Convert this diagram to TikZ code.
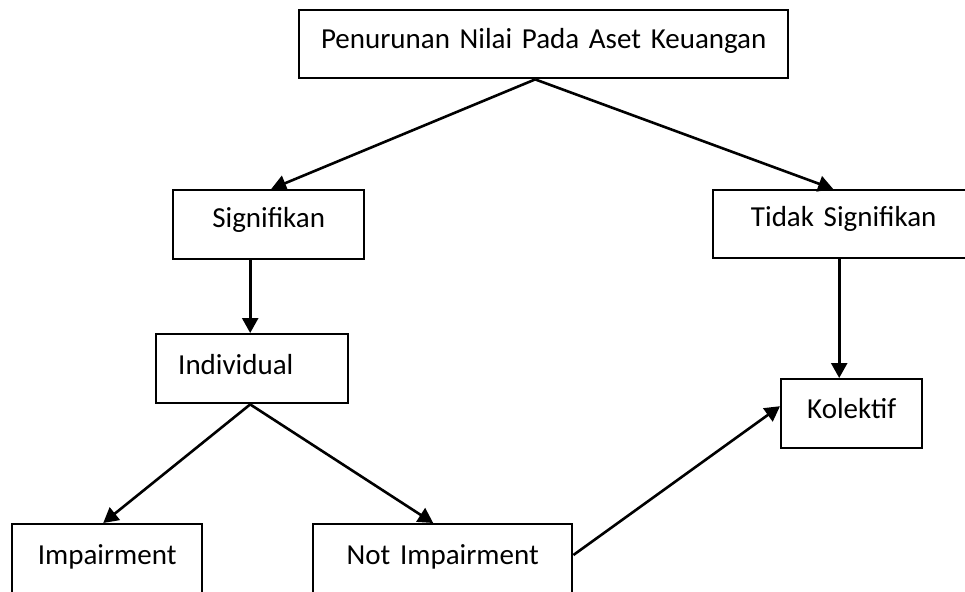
\documentclass[tikz,border=0pt]{standalone}
\usepackage{fontspec}
\setmainfont{Carlito}
\usetikzlibrary{arrows.meta,positioning}

\begin{document}
\begin{tikzpicture}[x=1pt, y=-1pt,
		kotak/.style={draw, line width=2.4pt, anchor=north west, inner sep=0pt, align=center, font=\fontsize{29}{35}\selectfont},
		panah/.style={line width=2.6pt, -{Triangle[length=15pt,width=16pt]}}]
				% Area of the picture
				\useasboundingbox (0,0) rectangle (965,591);
				\clip (0,0) rectangle (965,591);
				% Draw boxes
				\node[kotak, text width=489pt, text height=38pt, text depth=30pt] (penurunan) at (298,9) {Penurunan Nilai Pada Aset Keuangan};
				\node[kotak, text width=191pt, text height=37pt, text depth=32pt] (signifikan) at (172,189) {Signifikan};
				\node[kotak, text width=261pt, text height=36pt, text depth=32pt] (tidaksig) at (712,189) {Tidak Signifikan};
				\node[kotak, align=left, text width=192pt, text height=40pt, text depth=29pt] (individual) at (155,333) {\hspace*{22pt}Individual};
				\node[kotak, text width=141pt, text height=39pt, text depth=30pt] (kolektif) at (780,378) {Kolektif};
				\node[kotak, text width=190pt, text height=40pt, text depth=50pt] (impairment) at (11,523) {Impairment};
				\node[kotak, text width=259pt, text height=40pt, text depth=50pt] (notimp) at (312,523) {Not Impairment};
				% Draw arrows
				\draw[panah] ([xshift=-8.5pt]penurunan.south) -- ([xshift=2.5pt]signifikan.north);
				\draw[panah] ([xshift=-8.5pt]penurunan.south) -- ([xshift=-10.5pt]tidaksig.north);
				\draw[panah] ([xshift=-18.5pt]signifikan.south) -- ([xshift=-2pt]individual.north);
				\draw[panah] ([xshift=-4.5pt]tidaksig.south) -- ([xshift=-12.5pt]kolektif.north);
				\draw[panah] ([xshift=-2pt]individual.south) -- ([xshift=-4pt]impairment.north);
				\draw[panah] ([xshift=-2pt]individual.south) -- ([xshift=-9.5pt]notimp.north);
				\draw[panah] ([yshift=-32pt]notimp.north east) -- ([yshift=7.5pt]kolektif.west);
			\end{tikzpicture}
\end{document}
